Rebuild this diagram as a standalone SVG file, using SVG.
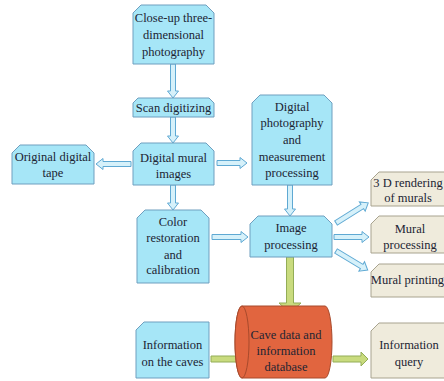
<svg xmlns="http://www.w3.org/2000/svg" width="444" height="381" viewBox="0 0 444 381">
<style>
.blue{fill:#a6e6f7;stroke:#6f9fbf;stroke-width:1}
.beige{fill:#efebdc;stroke:#a8a38f;stroke-width:1}
.arr{fill:#d6f1fa;stroke:#5fa9d3;stroke-width:1}
.garr{fill:#c9db7e;stroke:#93ad57;stroke-width:1}
.cyl{fill:#e1653f;stroke:#a84a2c;stroke-width:1}
.t{font-size:12.5px;fill:#1c2433;text-anchor:middle}
</style>
<rect width="444" height="381" fill="#ffffff"/>
<g id="connectors">
<path class="arr" d="M170.5,64 H175.5 V91 H178.5 L173,98 L167.5,91 H170.5 Z"/>
<path class="arr" d="M170.5,117 H175.5 V136 H178.5 L173,143 L167.5,136 H170.5 Z"/>
<path class="arr" d="M170.5,185 H175.5 V203 H178.5 L173,210 L167.5,203 H170.5 Z"/>
<path class="arr" d="M287.5,185 H292.5 V209 H295.5 L290,216 L284.5,209 H287.5 Z"/>
<path class="arr" d="M131,161.5 V166.5 H103 V169.5 L96,164 L103,158.5 V161.5 Z"/>
<path class="arr" d="M217,160.5 H240 V157.5 L247,163 L240,168.5 V165.5 H217 Z"/>
<path class="arr" d="M212,234.5 H241 V231.5 L248,237 L241,242.5 V239.5 H212 Z"/>
<path class="arr" d="M334,234.5 H362 V231.5 L369,237 L362,242.5 V239.5 H334 Z"/>
<path class="arr" transform="translate(336,223) rotate(-32)" d="M0,-2.5 H31 V-5.5 L38,0 L31,5.5 V2.5 H0 Z"/>
<path class="arr" transform="translate(336,251) rotate(31)" d="M0,-2.5 H30 V-5.5 L37,0 L30,5.5 V2.5 H0 Z"/>
<path class="garr" d="M286.5,257 H293.5 V303 H301 L290,313 L279,303 H286.5 Z"/>
<path class="garr" d="M211,356 H238 V352 L246,359 L238,366 V362 H211 Z"/>
<path class="garr" d="M333,356 H361 V352 L368,359 L361,366 V362 H333 Z"/>
</g>
<g font-family="Liberation Serif, Times New Roman, Tinos, Noto Serif, DejaVu Serif, FreeSerif, serif">
<g id="closeup">
<path class="blue" d="M141,5 H206 L214,13 V64 H133 V13 Z"/>
<text class="t" x="173.5" y="22">Close-up three-</text>
<text class="t" x="173.5" y="39">dimensional</text>
<text class="t" x="173.5" y="56">photography</text>
</g>
<g id="scan">
<path class="blue" d="M138,98 H209 L214,103 V117 H133 V103 Z"/>
<text class="t" x="173.5" y="112">Scan digitizing</text>
</g>
<g id="tape">
<path class="blue" d="M20,145 H86 L94,153 V184 H12 V153 Z"/>
<text class="t" x="53" y="161">Original digital</text>
<text class="t" x="53" y="177">tape</text>
</g>
<g id="mural">
<path class="blue" d="M141,143 H206 L214,151 V185 H133 V151 Z"/>
<text class="t" x="173.5" y="162">Digital mural</text>
<text class="t" x="173.5" y="178">images</text>
</g>
<g id="photo">
<path class="blue" d="M260,95 H324 L332,103 V185 H252 V103 Z"/>
<text class="t" x="292" y="111">Digital</text>
<text class="t" x="292" y="127">photography</text>
<text class="t" x="292" y="144">and</text>
<text class="t" x="292" y="161">measurement</text>
<text class="t" x="292" y="177">processing</text>
</g>
<g id="color">
<path class="blue" d="M145,210 H201 L209,218 V283 H137 V218 Z"/>
<text class="t" x="173" y="226">Color</text>
<text class="t" x="173" y="242">restoration</text>
<text class="t" x="173" y="259">and</text>
<text class="t" x="173" y="274">calibration</text>
</g>
<g id="image">
<path class="blue" d="M258,216 H324 L332,224 V257 H250 V224 Z"/>
<text class="t" x="291" y="232">Image</text>
<text class="t" x="291" y="249">processing</text>
</g>
<g id="render">
<path class="beige" d="M379,172 H456 V206 H371 V180 Z"/>
<text class="t" x="408" y="187">3 D rendering</text>
<text class="t" x="408" y="202">of murals</text>
</g>
<g id="muralproc">
<path class="beige" d="M379,216 H456 V253 H371 V224 Z"/>
<text class="t" x="410" y="233">Mural</text>
<text class="t" x="410" y="249">processing</text>
</g>
<g id="print">
<path class="beige" d="M379,264 H456 V297 H371 V272 Z"/>
<text class="t" x="407.5" y="284">Mural printing</text>
</g>
<g id="caves">
<path class="blue" d="M144,322 H209 V378 H136 V330 Z"/>
<text class="t" x="172.5" y="349">Information</text>
<text class="t" x="172.5" y="366">on the caves</text>
</g>
<g id="database">
<path class="cyl" d="M242,306 H325 A7,36 0 0 1 325,378 H242 A7,36 0 0 1 242,306 Z"/>
<ellipse class="cyl" cx="242" cy="342" rx="7" ry="36"/>
<text class="t" x="286" y="339">Cave data and</text>
<text class="t" x="286" y="355">information</text>
<text class="t" x="286" y="371">database</text>
</g>
<g id="query">
<path class="beige" d="M379,323 H456 V378 H371 V331 Z"/>
<text class="t" x="409" y="349">Information</text>
<text class="t" x="409" y="366">query</text>
</g>
</g>
</svg>
